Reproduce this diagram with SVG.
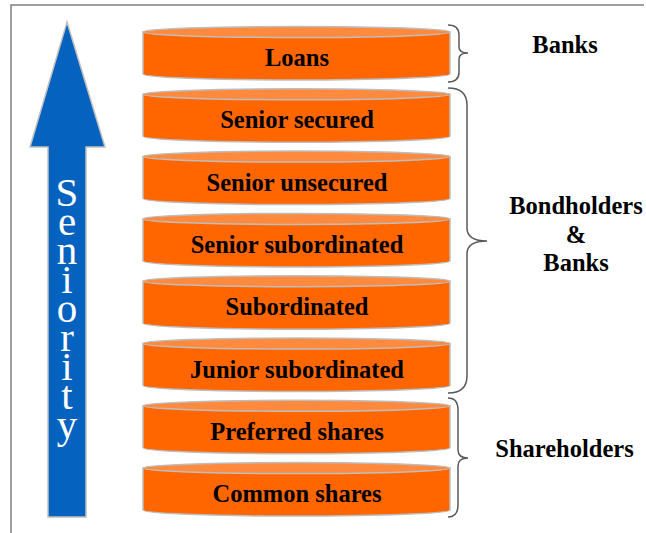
<svg xmlns="http://www.w3.org/2000/svg" xmlns:xlink="http://www.w3.org/1999/xlink" width="646" height="533" viewBox="0 0 646 533">
<style>
.lbl{font-family:"Liberation Serif","Times New Roman",serif;font-weight:bold;font-size:24.5px;fill:#000;text-anchor:middle}
.side{fill:#FF6600;stroke:#BDBDBD;stroke-width:1.5}
.top{fill:#FF8A3D;stroke:#BDBDBD;stroke-width:1.5}
.brace{fill:none;stroke:#595959;stroke-width:1.5}
.sen{font-family:"Liberation Serif","Times New Roman",serif;font-size:41px;fill:#fff;writing-mode:vertical-rl;text-orientation:upright;letter-spacing:-17px}
</style>
<defs>
<g id="cyl">
<path class="side" d="M143,6 V48 A153.5,6 0 0 0 450,48 V6 Z"/>
<ellipse class="top" cx="296.5" cy="6" rx="153.5" ry="5.5"/>
</g>
</defs>
<rect width="646" height="533" fill="#fff"/>
<path d="M11,533 V5 H644" fill="none" stroke="#7F7F7F" stroke-width="1.5"/>
<g id="arrow">
<polygon points="67,22 105,147 86,147 86,517 48,517 48,147 30,147" fill="#0562BE" stroke="#C0C0C0" stroke-width="1.5"/>
<text class="sen" x="67" y="169">Seniority</text>
</g>
<g id="n-loans" transform="translate(0,26)"><use xlink:href="#cyl"/><text class="lbl" x="297" y="40">Loans</text></g>
<g id="n-senior-secured" transform="translate(0,88.3)"><use xlink:href="#cyl"/><text class="lbl" x="297" y="40">Senior secured</text></g>
<g id="n-senior-unsecured" transform="translate(0,150.6)"><use xlink:href="#cyl"/><text class="lbl" x="297" y="40">Senior unsecured</text></g>
<g id="n-senior-subordinated" transform="translate(0,212.9)"><use xlink:href="#cyl"/><text class="lbl" x="297" y="40">Senior subordinated</text></g>
<g id="n-subordinated" transform="translate(0,275.2)"><use xlink:href="#cyl"/><text class="lbl" x="297" y="40">Subordinated</text></g>
<g id="n-junior-subordinated" transform="translate(0,337.5)"><use xlink:href="#cyl"/><text class="lbl" x="297" y="40">Junior subordinated</text></g>
<g id="n-preferred" transform="translate(0,399.8)"><use xlink:href="#cyl"/><text class="lbl" x="297" y="40">Preferred shares</text></g>
<g id="n-common" transform="translate(0,462.1)"><use xlink:href="#cyl"/><text class="lbl" x="297" y="40">Common shares</text></g>
<g id="connectors">
<path class="brace" d="M448,25 Q459,25 459,35 V47 Q459,53 468,53 Q459,53 459,59 V72 Q459,82 448,82"/>
<path class="brace" d="M448,88 Q467,88 467,105 V228 Q467,241 487,241 Q467,241 467,254 V376 Q467,393 448,393"/>
<path class="brace" d="M448,398 Q458,398 458,410 V450 Q458,458 468,458 Q458,458 458,466 V505 Q458,517 448,517"/>
</g>
<g id="g-banks"><text class="lbl" x="565" y="53">Banks</text></g>
<g id="g-bondholders"><text class="lbl" x="576" y="214">Bondholders</text><text class="lbl" x="576" y="243">&amp;</text><text class="lbl" x="576" y="271">Banks</text></g>
<g id="g-shareholders"><text class="lbl" x="564.5" y="457">Shareholders</text></g>
</svg>
